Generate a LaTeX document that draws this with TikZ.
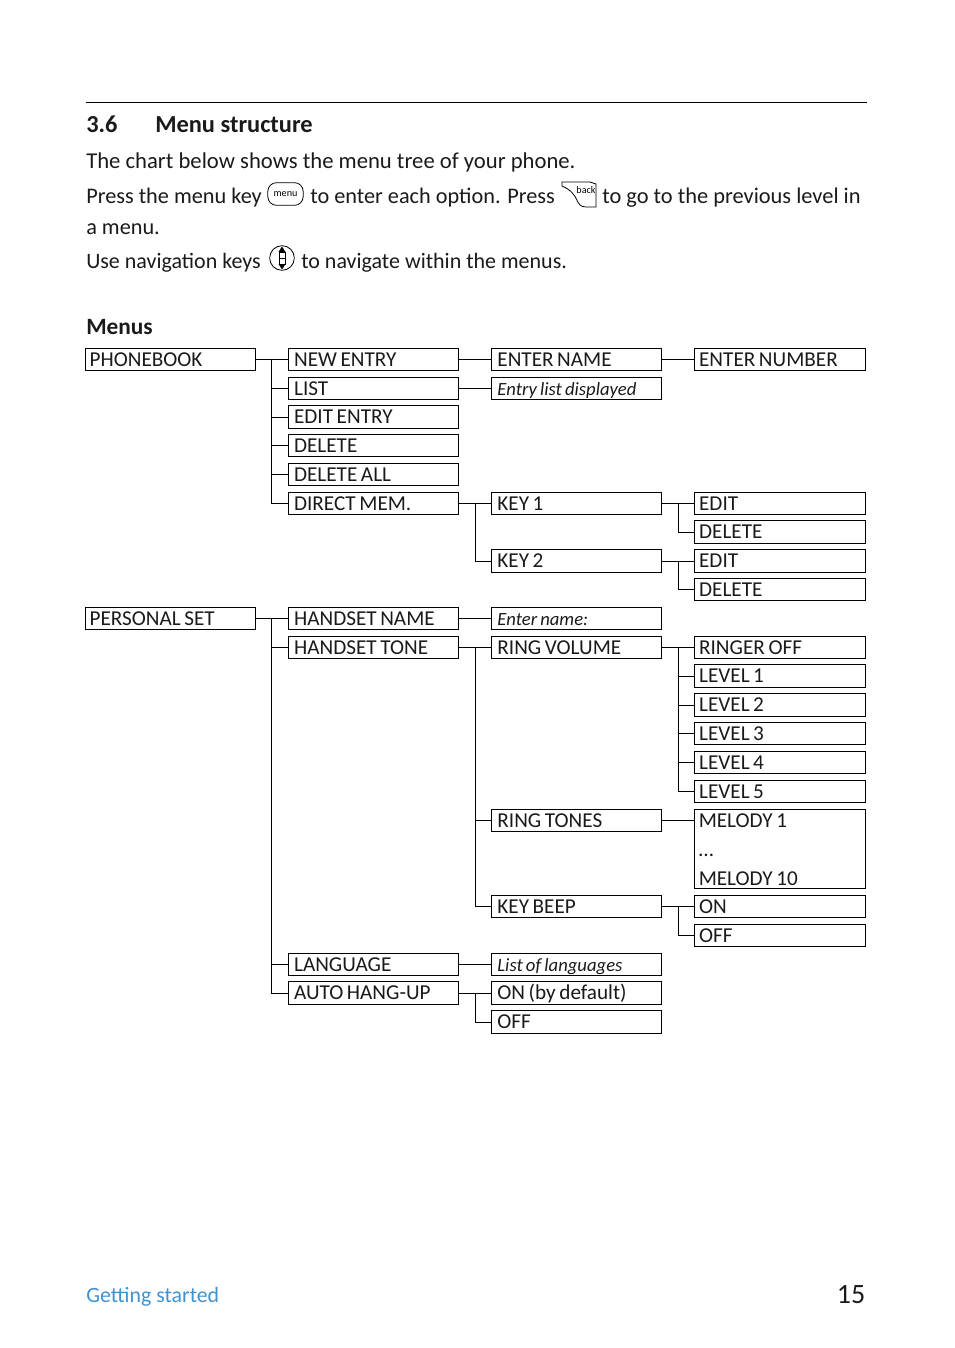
\documentclass[tikz,border=0pt]{standalone}
\usepackage{fontspec}
\setmainfont{Carlito}
\newfontfamily\boxfont[WordSpace=0.75]{Carlito}
\definecolor{footblue}{HTML}{3F93D2}
\definecolor{inktext}{HTML}{1A1A1A}
\tikzset{
  menubox/.style={draw,line width=0.7pt,anchor=west,minimum width=128pt,minimum height=17pt,
    text width=121pt,inner xsep=3.5pt,inner ysep=0pt,align=flush left,text height=10.5pt,text depth=0.4pt,
    font=\boxfont\fontsize{15.9}{18}\selectfont,text=inktext},
  colbox/.style={menubox,execute at begin node={\hspace*{1.1pt}}},
  italbox/.style={colbox,font=\boxfont\fontsize{14}{16}\itshape\selectfont},
  melodytext/.style={anchor=base west,inner sep=0pt,font=\boxfont\fontsize{15.9}{18}\selectfont,text=inktext},
  bodytext/.style={anchor=base west,inner sep=0pt,font=\fontsize{16.7}{19}\selectfont,text=inktext},
  headtext/.style={anchor=base west,inner sep=0pt,font=\fontsize{18.3}{20}\bfseries\selectfont,text=inktext},
  wire/.style={line width=0.7pt}
}
\begin{document}
\begin{tikzpicture}[x=0.75pt,y=-0.75pt]
  \useasboundingbox (0,0) rectangle (954,1348);
  % heading
  \coordinate (ruleL) at (86,102.5);
  \coordinate (ruleR) at (867,102.5);
  \draw[line width=0.7pt] (ruleL) -- (ruleR);
  \node[headtext] (secnum) at (86,133) {3.6};
  \node[headtext] (sectitle) at (155,133) {Menu structure};
  % intro
  \node[bodytext,font=\fontsize{17}{19}\selectfont] (introa) at (86,169) {The chart below shows the menu tree of your phone.};
  \node[bodytext] (introb) at (86,204) {Press the menu key};
  \node[bodytext] (introc) at (310,204) {to enter each option. Press};
  \node[bodytext,font=\fontsize{16.8}{19}\selectfont] (introd) at (602,204) {to go to the previous level in};
  \node[bodytext] (introe) at (86,234) {a menu.};
  \node[bodytext,font=\fontsize{16.5}{19}\selectfont] (introf) at (86,268) {Use navigation keys};
  \node[bodytext,font=\fontsize{16.5}{19}\selectfont] (introg) at (301,268) {to navigate within the menus.};
  % key icons
  \node[draw,rounded corners=6.5pt,line width=0.6pt,minimum width=26.5pt,minimum height=17pt,inner sep=0pt,font=\fontsize{7.6}{8}\selectfont] (menukey) at (285.5,194) {menu};
  \draw[line width=0.6pt] (562,182) -- (590,182) -- (596,184) -- (596,207) -- (586,207)
    .. controls (574,207) and (581,194) .. (562,186) -- cycle;
  \node[inner sep=0pt,font=\fontsize{7.6}{8}\selectfont] (backkey) at (586,190.5) {back};
  \node[draw,circle,line width=0.6pt,minimum size=18.5pt,inner sep=0pt] (navkey) at (282,258) {};
  \draw[line width=0.5pt] (279,252) rectangle (285,264);
  \draw[line width=0.5pt] (279,258) -- (285,258);
  \fill (278.5,252) -- (282,246.5) -- (285.5,252) -- cycle;
  \fill (278.5,264) -- (282,269.5) -- (285.5,264) -- cycle;
  \node[headtext,font=\fontsize{17.5}{20}\bfseries\selectfont] (menutitle) at (86,334.5) {Menus};
  % first column
  \node[menubox] (pbook) at (84.5,359.5) {PHONEBOOK};
  \node[menubox] (pset) at (84.5,618.5) {PERSONAL SET};
  % second column
  \node[colbox] (newent) at (287.5,359.5) {NEW ENTRY};
  \node[colbox] (lst) at (287.5,388.5) {LIST};
  \node[colbox] (edent) at (287.5,417) {EDIT ENTRY};
  \node[colbox] (del) at (287.5,445.5) {DELETE};
  \node[colbox] (delall) at (287.5,474.5) {DELETE ALL};
  \node[colbox] (dirmem) at (287.5,503.5) {DIRECT MEM.};
  \node[colbox] (hsname) at (287.5,618.5) {HANDSET NAME};
  \node[colbox] (hstone) at (287.5,647.5) {HANDSET TONE};
  \node[colbox] (lang) at (287.5,964.5) {LANGUAGE};
  \node[colbox] (autohu) at (287.5,993) {AUTO HANG-UP};
  % third column
  \node[colbox] (entname) at (490.8,359.5) {ENTER NAME};
  \node[italbox] (entlist) at (490.8,388.5) {Entry list displayed};
  \node[colbox] (keya) at (490.8,503.5) {KEY 1};
  \node[colbox] (keyb) at (490.8,561) {KEY 2};
  \node[italbox] (entnm) at (490.8,618.5) {Enter name:};
  \node[colbox] (ringvol) at (490.8,647.5) {RING VOLUME};
  \node[colbox] (rington) at (490.8,820.5) {RING TONES};
  \node[colbox] (keybeep) at (490.8,906.5) {KEY BEEP};
  \node[italbox] (langlist) at (490.8,964.5) {List of languages};
  \node[colbox] (autoon) at (490.8,993) {ON (by default)};
  \node[colbox] (autooff) at (490.8,1022) {OFF};
  % fourth column
  \node[menubox] (entnum) at (694,359.5) {ENTER NUMBER};
  \node[menubox] (aedit) at (694,503.5) {EDIT};
  \node[menubox] (adel) at (694,532) {DELETE};
  \node[menubox] (bedit) at (694,561) {EDIT};
  \node[menubox] (bdel) at (694,589.5) {DELETE};
  \node[menubox] (ringoff) at (694,647.5) {RINGER OFF};
  \node[menubox] (lva) at (694,676) {LEVEL 1};
  \node[menubox] (lvb) at (694,705) {LEVEL 2};
  \node[menubox] (lvc) at (694,733.5) {LEVEL 3};
  \node[menubox] (lvd) at (694,762.5) {LEVEL 4};
  \node[menubox] (lve) at (694,791.5) {LEVEL 5};
  \node[menubox,minimum height=59.5pt] (melody) at (694,848.7) {};
  \node[melodytext] (melodya) at (698.5,827) {MELODY 1};
  \node[melodytext] (melodyb) at (698.5,856) {…};
  \node[melodytext] (melodyc) at (698.5,885) {MELODY 10};
  \node[menubox] (beepon) at (694,906.5) {ON};
  \node[menubox] (beepoff) at (694,935.5) {OFF};
  % connectors
  \coordinate (tpb) at (271.5,359.5);
  \coordinate (tps) at (271.5,618.5);
  \coordinate (tdm) at (475,503.5);
  \coordinate (thn) at (475,647.5);
  \coordinate (tau) at (475,993);
  \coordinate (tka) at (678,503.5);
  \coordinate (tkb) at (678,561);
  \coordinate (trv) at (678,647.5);
  \coordinate (tkp) at (678,906.5);
  \draw[wire] (pbook.east) -- (newent.west);
  \foreach \target in {lst,edent,del,delall,dirmem} \draw[wire] (tpb) |- (\target.west);
  \draw[wire] (pset.east) -- (hsname.west);
  \foreach \target in {hstone,lang,autohu} \draw[wire] (tps) |- (\target.west);
  \draw[wire] (newent.east) -- (entname.west);
  \draw[wire] (lst.east) -- (entlist.west);
  \draw[wire] (entname.east) -- (entnum.west);
  \draw[wire] (dirmem.east) -- (keya.west);
  \draw[wire] (tdm) |- (keyb.west);
  \draw[wire] (keya.east) -- (aedit.west);
  \draw[wire] (tka) |- (adel.west);
  \draw[wire] (keyb.east) -- (bedit.west);
  \draw[wire] (tkb) |- (bdel.west);
  \draw[wire] (hsname.east) -- (entnm.west);
  \draw[wire] (hstone.east) -- (ringvol.west);
  \foreach \target in {rington,keybeep} \draw[wire] (thn) |- (\target.west);
  \draw[wire] (ringvol.east) -- (ringoff.west);
  \foreach \target in {lva,lvb,lvc,lvd,lve} \draw[wire] (trv) |- (\target.west);
  \draw[wire] (rington.east) -- (rington.east -| melody.west);
  \draw[wire] (keybeep.east) -- (beepon.west);
  \draw[wire] (tkp) |- (beepoff.west);
  \draw[wire] (lang.east) -- (langlist.west);
  \draw[wire] (autohu.east) -- (autoon.west);
  \draw[wire] (tau) |- (autooff.west);
  % footer
  \node[bodytext,text=footblue,font=\fontsize{16.4}{19}\selectfont] (footleft) at (86,1302) {Getting started};
  \node[anchor=base east,inner sep=0pt,font=\fontsize{21}{23}\selectfont,text=inktext] (pagenum) at (865.5,1303) {15};
\end{tikzpicture}
\end{document}
